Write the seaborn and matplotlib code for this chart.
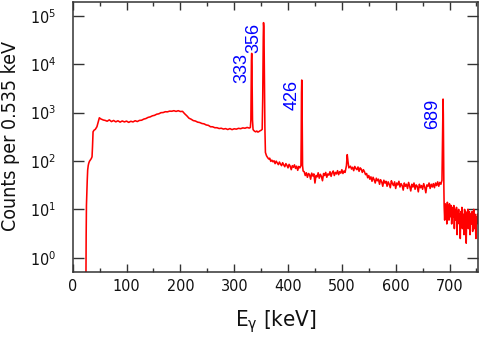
import matplotlib
matplotlib.use("Agg")
import matplotlib.pyplot as plt
from matplotlib import font_manager
import pandas as pd
import seaborn as sns
from matplotlib.ticker import MultipleLocator, LogLocator, NullLocator

# ---------------- data ----------------
# low-energy threshold rise
E_rise = [23.0, 24.6, 25.0, 25.5, 26.2, 27.0, 27.8, 28.8, 29.7, 31.0, 32.8, 34.5,
          35.9, 36.8, 37.8, 39.5, 42.0, 45.0, 47.5, 49.5, 52.0, 54.5, 57.0]
C_rise = [0.1, 0.4, 3, 12, 22, 40, 65, 80, 89, 98, 105, 112,
          122, 200, 400, 430, 450, 510, 650, 780, 740, 720, 700]

# continuum 60-328 keV (4 keV steps)
E_cont1 = list(range(60, 329, 4))
C_cont1 = [690, 662, 706, 650, 686, 642, 676, 634, 670, 640, 666, 626, 660, 640,
           678, 652, 688, 694, 732, 752, 794, 814, 856, 876, 924, 942, 994, 1000,
           1040, 1034, 1070, 1064, 1092, 1056, 1092, 1050, 1058, 944, 856, 764,
           728, 682, 668, 634, 622, 594, 584, 554, 544, 509, 508, 486, 486, 468,
           474, 456, 466, 446, 466, 444, 462, 454, 472, 464, 482, 474, 492, 478]

# 333 keV peak
E_p333 = [330.0, 331.0, 331.5, 332.0, 332.5, 333.0, 333.5, 334.0, 335.0]
C_p333 = [490, 700, 3000, 12000, 16700, 9000, 2500, 700, 450]

# between 333 and 356
E_mid = [336, 338, 340, 342, 344, 346, 348, 350, 352]
C_mid = [430, 410, 400, 415, 395, 405, 420, 430, 450]

# 356 keV peak
E_p356 = [353.0, 353.5, 354.0, 354.5, 355.0, 355.5, 356.0, 356.5, 357.0]
C_p356 = [2000, 8000, 35000, 72000, 60000, 30000, 8000, 2000, 500]

# continuum 358-422 keV (2 keV steps)
E_cont2 = list(range(358, 423, 2))
C_cont2 = [150, 128, 118, 110, 114, 98, 104, 96, 101, 88,
           99, 91, 84, 95, 86, 80, 92, 83, 76, 88,
           81, 72, 85, 78, 66, 80, 74, 83, 70, 78,
           64, 77, 72]

# 426 keV peak
E_p426 = [424.0, 424.5, 425.0, 425.5, 426.0, 426.5, 427.0, 428.0]
C_p426 = [80, 300, 2500, 4700, 2000, 300, 80, 62]

# continuum 430-506 keV
E_cont3 = list(range(430, 507, 2))
C_cont3 = [60, 50, 57, 46, 55, 52, 42, 56, 49, 54,
           35, 50, 47, 57, 44, 53, 48, 39, 55, 50,
           58, 46, 54, 51, 60, 48, 57, 62, 50, 58,
           54, 63, 52, 60, 56, 66, 55, 62, 58]

# 511 keV annihilation bump
E_p511 = [508.5, 510.0, 511.5, 513.0]
C_p511 = [80, 135, 95, 72]

# continuum 516-684 keV
E_cont4 = list(range(516, 685, 2))
C_cont4 = [78, 68, 74, 63, 77, 70, 66, 75, 61, 72,
           68, 58, 66, 60, 52, 55, 45, 50, 42, 47,
           38, 46, 41, 35, 44, 39, 42, 33, 41, 37,
           30, 40, 35, 38, 30, 37, 33, 28, 39, 34,
           31, 37, 27, 35, 32, 38, 29, 34, 31, 25,
           35, 30, 33, 27, 36, 30, 24, 33, 29, 35,
           26, 32, 30, 23, 33, 28, 31, 26, 34, 29,
           22, 32, 30, 35, 27, 33, 29, 34, 28, 35,
           31, 37, 30, 36, 33]

# 689 keV peak
E_p689 = [686.0, 687.0, 687.5, 688.0, 688.5, 689.0, 689.5, 690.0]
C_p689 = [40, 300, 1200, 1900, 900, 150, 30, 12]

# high-energy tail (1 keV steps)
E_tail = list(range(691, 754))
C_tail = [6, 13, 8, 12, 5, 14, 9, 11, 6, 13, 7, 10, 12, 5, 9, 11, 7, 12, 4, 10,
          8, 6, 11, 3, 9, 7, 10, 5, 8, 2.5, 9, 6, 11, 4, 8, 7, 3, 10, 6, 9,
          2, 8, 5, 10, 4, 7, 9, 3, 8, 6, 5, 9, 3.5, 7, 10, 4, 8, 6, 2.5, 7,
          5, 8, 6]

peak_labels = ["333", "356", "426", "689"]
peak_E = [332.5, 354.5, 425.5, 688.0]
peak_top = [16700, 72000, 4700, 1900]

# ---------------- assemble ----------------
E_all = (E_rise + E_cont1 + E_p333 + E_mid + E_p356 + E_cont2 + E_p426 + E_cont3
         + E_p511 + E_cont4 + E_p689 + E_tail)
C_all = (C_rise + C_cont1 + C_p333 + C_mid + C_p356 + C_cont2 + C_p426 + C_cont3
         + C_p511 + C_cont4 + C_p689 + C_tail)
df = pd.DataFrame({"E": E_all, "counts": C_all})

# ---------------- style ----------------
sns.set_theme(style="ticks")
_fonts = font_manager.fontManager.ttflist
_names = {f.name for f in _fonts}
if "Liberation Sans Narrow" in _names:
    plt.rcParams["font.family"] = ["Liberation Sans Narrow", "DejaVu Sans"]
else:
    plt.rcParams["font.family"] = ["DejaVu Sans"]
    if any(f.name == "DejaVu Sans" and f.stretch == "condensed" for f in _fonts):
        plt.rcParams["font.stretch"] = "condensed"
frame_col = "#333333"

fig = plt.figure(figsize=(4.79, 3.38), dpi=100)
ax = fig.add_axes([0.1518, 0.196, 0.8462, 0.798])
ax.set_yscale("log")

sns.lineplot(data=df, x="E", y="counts", sort=False, estimator=None,
             color="#ff0000", lw=1.15, ax=ax)

ax.set_xlim(0, 753)
ax.set_ylim(0.514, 1.92e5)

ax.xaxis.set_major_locator(MultipleLocator(100))
ax.xaxis.set_minor_locator(MultipleLocator(50))
ax.yaxis.set_major_locator(LogLocator(base=10, numticks=12))
ax.yaxis.set_minor_locator(NullLocator())

ax.tick_params(axis="both", which="both", direction="in", top=True, right=True,
               color=frame_col, width=1.0, labelcolor="#111111")
ax.tick_params(axis="x", which="major", length=6, labelsize=11.5, pad=5)
ax.tick_params(axis="x", which="minor", length=3)
ax.tick_params(axis="y", which="major", length=8, labelsize=11.5, pad=12)

for sp in ax.spines.values():
    sp.set_color(frame_col)
    sp.set_linewidth(1.1)

ax.set_xlabel("E$_{\\mathregular{γ}}$ [keV]", fontsize=16, color="#111111")
ax.set_ylabel("Counts per 0.535 keV", fontsize=14, color="#111111")
ax.xaxis.set_label_coords(0.5, -0.135)
ax.yaxis.set_label_coords(-0.13, 0.505)

for lab, e, top in zip(peak_labels, peak_E, peak_top):
    ax.text(e - 3.0, top, lab, rotation=90, ha="right", va="top",
            color="blue", fontsize=13, family=["Liberation Sans", "DejaVu Sans"],
            stretch="normal")

fig.savefig("out.png", dpi=100)
